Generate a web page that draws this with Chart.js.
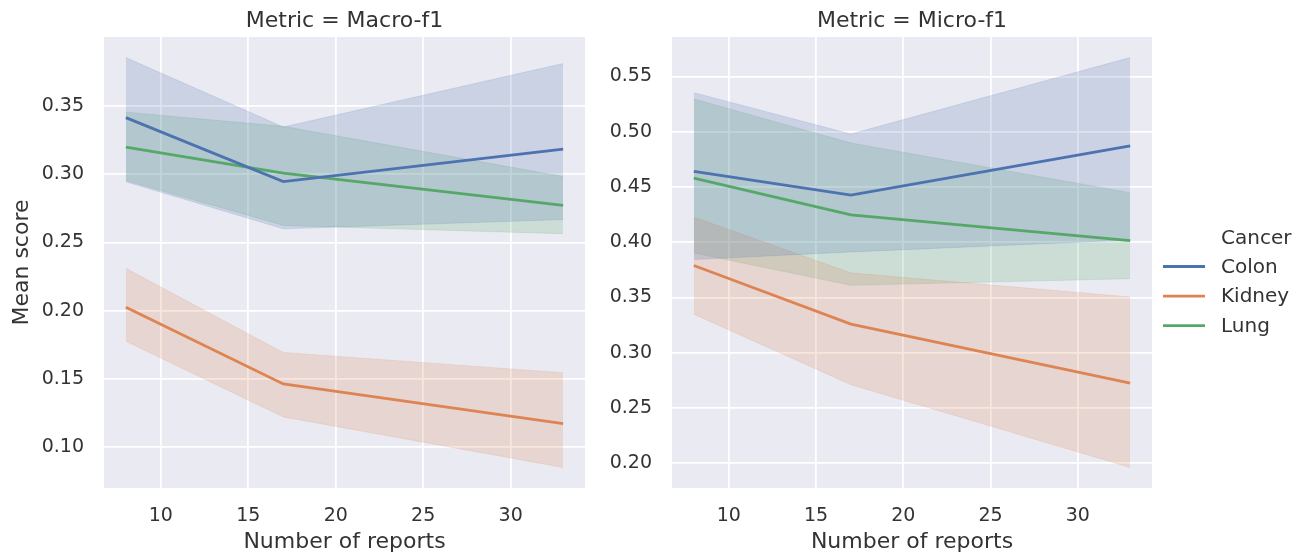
<!DOCTYPE html>
<html>
<head>
<meta charset="utf-8">
<script src="https://cdn.jsdelivr.net/npm/chart.js@4.4.1/dist/chart.umd.min.js"></script>
<style>
  html, body { margin: 0; padding: 0; background: #fff; }
  #wrap { position: relative; width: 1306px; height: 558px; }
  .panel { position: absolute; top: 0; height: 558px; }
  #leftBox { left: 0; width: 590px; }
  #rightBox { left: 590px; width: 716px; }
</style>
</head>
<body>
<div id="wrap">
  <div class="panel" id="leftBox"><canvas id="macroChart"></canvas></div>
  <div class="panel" id="rightBox"><canvas id="microChart"></canvas></div>
</div>
<script>
// Data
const reports = [8, 17, 33];
const xTicks = [10, 15, 20, 25, 30];
const cancers = ["Colon", "Kidney", "Lung"];
const colors = ["#4c72b0", "#dd8452", "#55a868"];

// Metric = Macro-f1
const macroColon = [0.3416, 0.2947, 0.3185];
const macroColonLo = [0.2945, 0.2600, 0.2668];
const macroColonHi = [0.3857, 0.3347, 0.3813];
const macroKidney = [0.2025, 0.1462, 0.1171];
const macroKidneyLo = [0.1775, 0.1220, 0.0849];
const macroKidneyHi = [0.2310, 0.1693, 0.1545];
const macroLung = [0.3200, 0.3008, 0.2772];
const macroLungLo = [0.2954, 0.2625, 0.2564];
const macroLungHi = [0.3456, 0.3352, 0.2984];
const macroTicks = [0.10, 0.15, 0.20, 0.25, 0.30, 0.35];

// Metric = Micro-f1
const microColon = [0.4640, 0.4427, 0.4871];
const microColonLo = [0.3843, 0.3912, 0.4020];
const microColonHi = [0.5353, 0.4979, 0.5671];
const microKidney = [0.3789, 0.3259, 0.2726];
const microKidneyLo = [0.3349, 0.2711, 0.1962];
const microKidneyHi = [0.4227, 0.3723, 0.3505];
const microLung = [0.4580, 0.4248, 0.4014];
const microLungLo = [0.3903, 0.3610, 0.3670];
const microLungHi = [0.5296, 0.4898, 0.4448];
const microTicks = [0.20, 0.25, 0.30, 0.35, 0.40, 0.45, 0.50, 0.55];

const FONT = "'DejaVu Sans', sans-serif";
const TEXT = "#333333";

function hexA(hex, a) {
    const n = parseInt(hex.slice(1), 16);
    return `rgba(${n >> 16}, ${(n >> 8) & 255}, ${n & 255}, ${a})`;
}

function pts(vals) {
    return vals.map((v, i) => ({ x: reports[i], y: v }));
}

// lines first (drawn on top), then hi/lo band pairs
function buildDatasets(means, los, his) {
    const sets = [];
    means.forEach((m, i) => {
        sets.push({
            label: cancers[i], data: pts(m), borderColor: colors[i],
            borderWidth: 2.8, pointRadius: 0, fill: false, order: 0
        });
    });
    his.forEach((h, i) => {
        sets.push({
            label: cancers[i] + " hi", data: pts(h), borderWidth: 0.8,
            borderColor: hexA(colors[i], 0.2), backgroundColor: hexA(colors[i], 0.2),
            pointRadius: 0, fill: "+1", order: 1
        });
        sets.push({
            label: cancers[i] + " lo", data: pts(los[i]), borderWidth: 0.8,
            borderColor: hexA(colors[i], 0.2), pointRadius: 0, fill: false, order: 1
        });
    });
    return sets;
}

function yRange(arrs) {
    const all = arrs.flat();
    const lo = Math.min(...all), hi = Math.max(...all);
    const pad = (hi - lo) * 0.05;
    return [lo - pad, hi + pad];
}

const bgPlugin = {
    id: "panelBg",
    beforeDraw(chart) {
        const a = chart.chartArea, ctx = chart.ctx;
        ctx.save();
        ctx.fillStyle = "#eaeaf2";
        ctx.fillRect(a.left, a.top, a.right - a.left, a.bottom - a.top);
        ctx.restore();
    }
};

const titlePlugin = {
    id: "panelTitle",
    afterDraw(chart, args, opts) {
        const a = chart.chartArea, ctx = chart.ctx;
        ctx.save();
        ctx.font = `22px ${FONT}`;
        ctx.fillStyle = TEXT;
        ctx.textAlign = "center";
        ctx.textBaseline = "alphabetic";
        ctx.fillText(opts.text, (a.left + a.right) / 2, 27);
        ctx.restore();
    }
};

const legendPlugin = {
    id: "sideLegend",
    afterDraw(chart, args, opts) {
        if (!opts.show) return;
        const ctx = chart.ctx;
        const x0 = chart.chartArea.right + 11;
        ctx.save();
        ctx.fillStyle = TEXT;
        ctx.textAlign = "left";
        ctx.textBaseline = "alphabetic";
        ctx.font = `20px ${FONT}`;
        ctx.fillText("Cancer", x0 + 58, 244);
        ctx.textBaseline = "middle";
        cancers.forEach((c, i) => {
            const y = 266.5 + i * 29.6;
            ctx.strokeStyle = colors[i];
            ctx.lineWidth = 2.8;
            ctx.beginPath();
            ctx.moveTo(x0, y);
            ctx.lineTo(x0 + 42, y);
            ctx.stroke();
            ctx.fillText(c, x0 + 58, y + 1);
        });
        ctx.restore();
    }
};

function makeChart(id, title, datasets, yLims, yTicks, opts) {
    const ctx = document.getElementById(id).getContext("2d");
    return new Chart(ctx, {
        type: "line",
        data: { datasets },
        options: {
            responsive: true,
            maintainAspectRatio: false,
            animation: false,
            layout: { padding: { top: 37, right: opts.rightPad, bottom: 0, left: 0 } },
            plugins: {
                legend: { display: false },
                tooltip: { enabled: false },
                panelTitle: { text: title },
                sideLegend: { show: opts.legend }
            },
            scales: {
                x: {
                    type: "linear", min: 6.75, max: 34.25,
                    afterBuildTicks: s => { s.ticks = xTicks.map(v => ({ value: v })); },
                    afterFit: s => { s.height = 70; },
                    grid: { color: "#ffffff", lineWidth: 1.8, drawTicks: false },
                    border: { display: false },
                    ticks: { color: TEXT, font: { family: FONT, size: 19 }, padding: 17, maxRotation: 0 },
                    title: { display: true, text: "Number of reports", color: TEXT, font: { family: FONT, size: 22 }, padding: { top: 0, bottom: 3 } }
                },
                y: {
                    min: yLims[0], max: yLims[1],
                    afterBuildTicks: s => { s.ticks = yTicks.map(v => ({ value: v })); },
                    afterFit: s => { s.width = opts.yWidth; },
                    grid: { color: "#ffffff", lineWidth: 1.8, drawTicks: false },
                    border: { display: false },
                    ticks: { color: TEXT, font: { family: FONT, size: 19 }, padding: 20, callback: v => v.toFixed(2) },
                    title: { display: opts.yTitle, text: "Mean score", color: TEXT, font: { family: FONT, size: 22 }, padding: { top: 9, bottom: 4 } }
                }
            }
        },
        plugins: [bgPlugin, titlePlugin, legendPlugin]
    });
}

makeChart("macroChart", "Metric = Macro-f1",
    buildDatasets([macroColon, macroKidney, macroLung],
        [macroColonLo, macroKidneyLo, macroLungLo],
        [macroColonHi, macroKidneyHi, macroLungHi]),
    yRange([macroColonLo, macroColonHi, macroKidneyLo, macroKidneyHi, macroLungLo, macroLungHi]),
    macroTicks, { rightPad: 5, yWidth: 104, yTitle: true, legend: false });

makeChart("microChart", "Metric = Micro-f1",
    buildDatasets([microColon, microKidney, microLung],
        [microColonLo, microKidneyLo, microLungLo],
        [microColonHi, microKidneyHi, microLungHi]),
    yRange([microColonLo, microColonHi, microKidneyLo, microKidneyHi, microLungLo, microLungHi]),
    microTicks, { rightPad: 154, yWidth: 82, yTitle: false, legend: true });
</script>
</body>
</html>
